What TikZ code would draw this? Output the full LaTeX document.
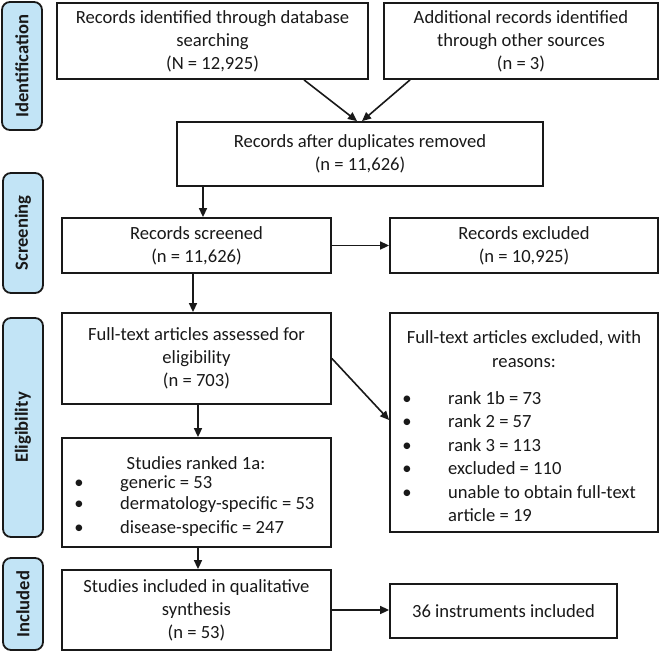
\documentclass[tikz,border=0pt]{standalone}
\usepackage{fontspec}
\setmainfont{Carlito}
\usetikzlibrary{arrows.meta}
\definecolor{sidefill}{RGB}{194,228,246}
\definecolor{ink}{RGB}{25,25,25}
\begin{document}
\begin{tikzpicture}[x=1pt,y=-1pt,
  box/.style={draw=ink, line width=1.8pt, rectangle, inner sep=0pt, align=center, font=\fontsize{18.6}{23}\selectfont, text=ink},
  side/.style={draw=ink, line width=1.8pt, fill=sidefill, rounded corners=8pt, rectangle, inner sep=0pt, rotate=90, font=\fontsize{18.6}{23}\selectfont\bfseries, text=ink},
  arr/.style={draw=ink, line width=1.6pt, -{Triangle[length=9pt,width=8pt]}},
  txt/.style={inner sep=0pt, font=\fontsize{18.6}{23}\selectfont, text=ink},
]
\path[fill=white] (0,0) rectangle (659,653);

% side labels
\node[side, minimum width=128pt, minimum height=40pt] (sid) at (22,66) {Identification};
\node[side, minimum width=120pt, minimum height=40pt] (ssc) at (23,233) {Screening};
\node[side, minimum width=219pt, minimum height=40pt] (sel) at (23,427.5) {Eligibility};
\node[side, minimum width=92pt, minimum height=40pt] (sin) at (23,604) {Included};

% boxes
\node[box, minimum width=311pt, minimum height=76pt] (b1) at (212.5,41) {Records identified through database\\searching\\(N = 12,925)};
\node[box, minimum width=274pt, minimum height=76pt] (b2) at (521,41) {Additional records identified\\through other sources\\(n = 3)};
\node[box, minimum width=366pt, minimum height=64pt] (b3) at (360,154) {Records after duplicates removed\\(n = 11,626)};
\node[box, minimum width=269pt, minimum height=55pt] (b4) at (196.5,245.5) {Records screened\\(n = 11,626)};
\node[box, minimum width=268pt, minimum height=55pt] (b5) at (524,245.5) {Records excluded\\(n = 10,925)};
\node[box, minimum width=269pt, minimum height=91pt] (b6) at (196.5,358.5) {Full-text articles assessed for\\eligibility\\(n = 703)};
\node[box, minimum width=268pt, minimum height=219pt] (b7) at (524,422.5) {};
\node[box, minimum width=269pt, minimum height=109pt] (b8) at (196.5,492.5) {};
\node[box, minimum width=269pt, minimum height=80pt] (b9) at (196.5,610) {Studies included in qualitative\\synthesis\\(n = 53)};
\node[box, minimum width=227pt, minimum height=54pt] (b10) at (503.5,611) {36 instruments included};

% box 7 content
\node[txt, anchor=base] (t7h1) at (524,343) {Full-text articles excluded, with};
\node[txt, anchor=base] (t7h2) at (524,367) {reasons:};
\node[txt, anchor=base] (t7d1) at (407,404) {\textbullet};
\node[txt, anchor=base] (t7d2) at (407,427) {\textbullet};
\node[txt, anchor=base] (t7d3) at (407,451) {\textbullet};
\node[txt, anchor=base] (t7d4) at (407,474) {\textbullet};
\node[txt, anchor=base] (t7d5) at (407,498) {\textbullet};
\node[txt, anchor=base west] (t7i1) at (448,404) {rank 1b = 73};
\node[txt, anchor=base west] (t7i2) at (448,427) {rank 2 = 57};
\node[txt, anchor=base west] (t7i3) at (448,451) {rank 3 = 113};
\node[txt, anchor=base west] (t7i4) at (448,474) {excluded = 110};
\node[txt, anchor=base west] (t7i5) at (448,498) {unable to obtain full-text};
\node[txt, anchor=base west] (t7i6) at (448,521) {article = 19};

% box 8 content
\node[txt, anchor=base] (t8h) at (196,469) {Studies ranked 1a:};
\node[txt, anchor=base] (t8d1) at (79,488) {\textbullet};
\node[txt, anchor=base] (t8d2) at (79,509) {\textbullet};
\node[txt, anchor=base] (t8d3) at (79,533) {\textbullet};
\node[txt, anchor=base west] (t8i1) at (120,488) {generic = 53};
\node[txt, anchor=base west] (t8i2) at (120,509) {dermatology-specific = 53};
\node[txt, anchor=base west] (t8i3) at (120,533) {disease-specific = 247};

% arrows
\draw[arr] ([xshift=91.5pt]b1.south) -- ([xshift=-3pt]b3.north);
\draw[arr] ([xshift=-111pt]b2.south) -- ([xshift=2pt]b3.north);
\draw[arr] ([xshift=6.5pt]b4.north |- b3.south) -- ([xshift=6.5pt]b4.north);
\draw[arr] (b4.east) -- (b5.west);
\draw[arr] ([xshift=-3.5pt]b4.south) -- ([xshift=-3.5pt]b6.north);
\draw[arr] (b6.east) -- ([yshift=2.5pt]b7.west);
\draw[arr] ([xshift=1.5pt]b6.south) -- ([xshift=1.5pt]b8.north);
\draw[arr] ([xshift=1.5pt]b8.south) -- ([xshift=1.5pt]b9.north);
\draw[arr] (b9.east) -- (b9.east -| b10.west);
\end{tikzpicture}
\end{document}
